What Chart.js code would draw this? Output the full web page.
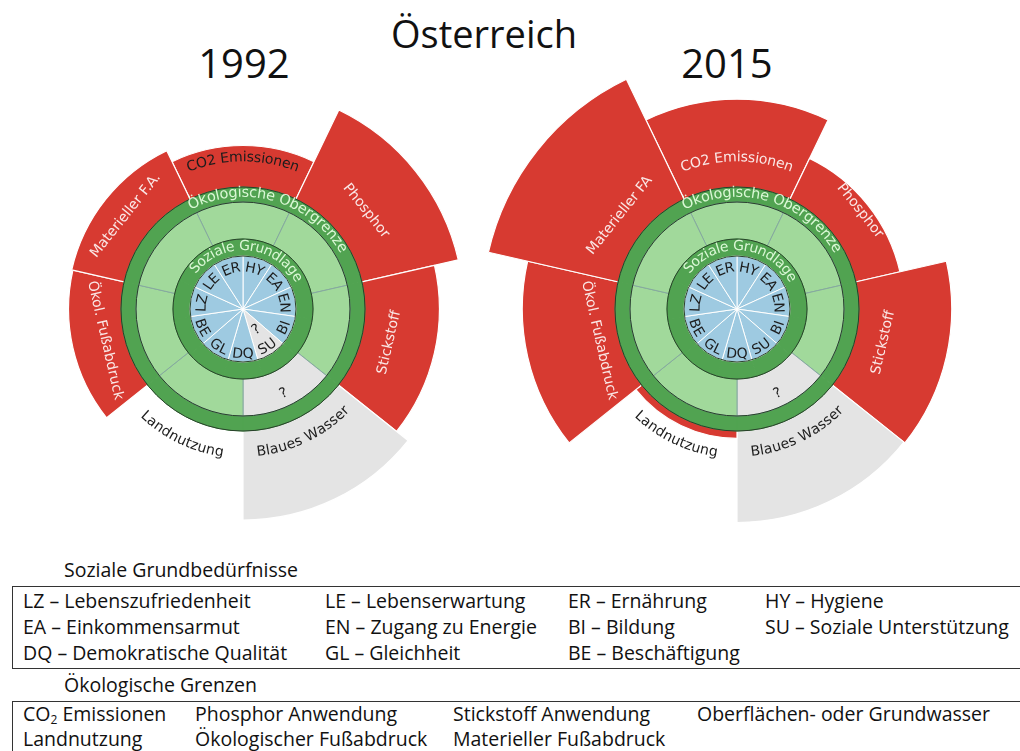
<!DOCTYPE html>
<html lang="de">
<head>
<meta charset="utf-8">
<title>Österreich 1992 / 2015</title>
<script src="https://cdn.jsdelivr.net/npm/chart.js@4.4.0/dist/chart.umd.min.js"></script>
<style>
    html, body { margin: 0; padding: 0; background: #fff; }
    #page { position: relative; width: 1020px; height: 751px; overflow: hidden; font-family: "Open Sans", sans-serif; color: #111; }
    .t { position: absolute; white-space: nowrap; line-height: 1; text-align: center; }
    canvas { position: absolute; }
    .box { position: absolute; left: 12px; width: 1040px; border: 1.5px solid #333; box-sizing: border-box; }
    .lg { position: absolute; font-size: 19.5px; line-height: 19px; white-space: nowrap; }
    .lg sub { font-size: 12px; line-height: 0; vertical-align: -3px; }
</style>
</head>
<body>
<div id="page">
    <div class="t" style="left:0;width:968px;top:14px;font-size:38px;">Österreich</div>
    <div class="t" style="left:44px;width:400px;top:43px;font-size:40px;">1992</div>
    <div class="t" style="left:527px;width:400px;top:43px;font-size:40px;">2015</div>

    <canvas id="eco1992" width="480" height="480" style="left:3px;top:69px;"></canvas>
    <canvas id="soc1992" width="160" height="160" style="left:163px;top:229px;"></canvas>
    <canvas id="eco2015" width="540" height="540" style="left:467px;top:39px;"></canvas>
    <canvas id="soc2015" width="160" height="160" style="left:657px;top:229px;"></canvas>

    <!-- Legende -->
    <div class="lg" style="left:64px;top:560px;">Soziale Grundbedürfnisse</div>
    <div class="box" style="top:586px;height:83px;"></div>
    <div class="lg" style="left:23px;top:591px;">LZ – Lebenszufriedenheit</div>
    <div class="lg" style="left:325px;top:591px;">LE – Lebenserwartung</div>
    <div class="lg" style="left:568px;top:591px;">ER – Ernährung</div>
    <div class="lg" style="left:765px;top:591px;">HY – Hygiene</div>
    <div class="lg" style="left:23px;top:617px;">EA – Einkommensarmut</div>
    <div class="lg" style="left:325px;top:617px;">EN – Zugang zu Energie</div>
    <div class="lg" style="left:568px;top:617px;">BI – Bildung</div>
    <div class="lg" style="left:765px;top:617px;">SU – Soziale Unterstützung</div>
    <div class="lg" style="left:23px;top:643px;">DQ – Demokratische Qualität</div>
    <div class="lg" style="left:325px;top:643px;">GL – Gleichheit</div>
    <div class="lg" style="left:568px;top:643px;">BE – Beschäftigung</div>

    <div class="lg" style="left:64px;top:675px;">Ökologische Grenzen</div>
    <div class="box" style="top:701px;height:80px;"></div>
    <div class="lg" style="left:23px;top:704px;">CO<sub>2</sub> Emissionen</div>
    <div class="lg" style="left:195px;top:704px;">Phosphor Anwendung</div>
    <div class="lg" style="left:453px;top:704px;">Stickstoff Anwendung</div>
    <div class="lg" style="left:697px;top:704px;">Oberflächen- oder Grundwasser</div>
    <div class="lg" style="left:23px;top:729px;">Landnutzung</div>
    <div class="lg" style="left:195px;top:729px;">Ökologischer Fußabdruck</div>
    <div class="lg" style="left:453px;top:729px;">Materieller Fußabdruck</div>
</div>

<script>
// --- DATEN ---
// Ökologische Grenzen, im Uhrzeigersinn ab oben (Wert 1 = ökologische Obergrenze)
const ecoNames1992 = ['CO2 Emissionen', 'Phosphor', 'Stickstoff', 'Blaues Wasser', 'Landnutzung', 'Ökol. Fußabdruck', 'Materieller F.A.'];
const ecoNames2015 = ['CO2 Emissionen', 'Phosphor', 'Stickstoff', 'Blaues Wasser', 'Landnutzung', 'Ökol. Fußabdruck', 'Materieller FA'];
const eco1992 = [1.34, 1.81, 1.61, 1.73, 0.90, 1.43, 1.44];
const eco2015 = [1.72, 1.37, 1.76, 1.75, 1.06, 1.76, 2.09];
const ecoKnown1992 = [true, true, true, false, true, true, true];
const ecoKnown2015 = [true, true, true, false, true, true, true];

// Soziale Grundlage, im Uhrzeigersinn ab oben (Wert 1 = Schwelle erreicht)
const socNames = ['HY', 'EA', 'EN', 'BI', 'SU', 'DQ', 'GL', 'BE', 'LZ', 'LE', 'ER'];
const soc1992 = [1, 1, 1, 1, 1, 1, 1, 1, 1, 1, 1];
const soc2015 = [1, 1, 1, 1, 1, 1, 1, 1, 1, 1, 1];
const socKnown1992 = [true, true, true, true, false, true, true, true, true, true, true];
const socKnown2015 = [true, true, true, true, true, true, true, true, true, true, true];

// --- GEOMETRIE / STIL ---
const PX = 122;                 // Pixel pro Einheit (äußerer Rand der Obergrenze)
const SOC_R = 53 / PX;          // Radius soziale Grundlage
const SOC_RING = 70 / PX;       // innerer grüner Ring
const ECO_IN = 107 / PX;        // hellgrüner Bereich
const ECO_OUT = 1;              // äußerer grüner Ring
const LABEL_R = [1.24, 1.29, 1.23, 1.18, 1.19, 1.16, 1.23];

const C = {
    red: '#d73a31',
    grey: '#e4e4e4',
    dark: '#51a351',
    light: '#a1d99b',
    lightLine: '#86a9a0',
    blue: '#9ecae1',
    edge: '#28402a',
    onRed: 'rgba(255,255,255,0.88)',
    ring: 'rgba(230,255,225,0.92)',
    ink: '#1c1c1c'
};
const FONT = '"DejaVu Sans", sans-serif';

// Text entlang eines Kreisbogens (oder gerade, tangential gedreht)
function arcText(ctx, text, cx, cy, r, angDeg, curved) {
    const a0 = angDeg * Math.PI / 180;
    const norm = ((angDeg % 360) + 360) % 360;
    const flip = norm > 90 && norm < 270;
    if (!curved) {
        ctx.save();
        ctx.translate(cx + r * Math.sin(a0), cy - r * Math.cos(a0));
        ctx.rotate(flip ? a0 - Math.PI : a0);
        ctx.fillText(text, 0, 0);
        ctx.restore();
        return;
    }
    const total = ctx.measureText(text).width;
    let off = -total / 2;
    for (const ch of text) {
        const w = ctx.measureText(ch).width;
        const d = (off + w / 2) / r;
        const a = flip ? a0 - d : a0 + d;
        ctx.save();
        ctx.translate(cx + r * Math.sin(a), cy - r * Math.cos(a));
        ctx.rotate(flip ? a - Math.PI : a);
        ctx.fillText(ch, 0, 0);
        ctx.restore();
        off += w;
    }
}

function textPlugin(items) {
    return {
        id: 'ringText',
        afterDraw(chart) {
            const s = chart.scales.r;
            const ctx = chart.ctx;
            ctx.save();
            ctx.textAlign = 'center';
            ctx.textBaseline = 'middle';
            items.forEach(it => {
                ctx.font = it.font;
                ctx.fillStyle = it.color;
                arcText(ctx, it.text, s.xCenter, s.yCenter, s.getDistanceFromCenterForValue(it.r), it.angle, it.curved);
            });
            ctx.restore();
        }
    };
}

function radialScale(half, start, rings) {
    return {
        r: {
            min: 0,
            max: half / PX,
            startAngle: start,
            ticks: { display: false },
            pointLabels: { display: false },
            angleLines: { display: false },
            grid: { display: true, circular: true, color: C.edge, lineWidth: 1, z: 1 },
            afterBuildTicks: (axis) => { axis.ticks = [0, ...rings].map(v => ({ value: v })); }
        }
    };
}

const baseOpts = {
    responsive: false,
    animation: false,
    events: [],
    layout: { padding: 0 },
    plugins: { legend: { display: false }, tooltip: { enabled: false } }
};

// --- ÖKOLOGISCHE OBERGRENZE ---
function ecoChart(id, names, vals, known, darkText) {
    const canvas = document.getElementById(id);
    const half = canvas.width / 2;
    const step = 360 / names.length;

    const items = [];
    names.forEach((n, i) => {
        const curved = (i === 0 || i === 3 || i === 4);
        items.push({ text: n, r: LABEL_R[i], angle: i * step, curved,
            font: '14px ' + FONT, color: darkText[i] ? C.ink : C.onRed });
        if (!known[i]) {
            items.push({ text: '?', r: 94 / PX, angle: i * step, curved: false, font: '14px ' + FONT, color: C.ink });
        }
    });
    items.push({ text: 'Ökologische Obergrenze', r: 116 / PX, angle: 16, curved: true, font: '14.5px ' + FONT, color: C.ring });

    new Chart(canvas, {
        type: 'polarArea',
        data: {
            labels: names,
            datasets: [
                { data: names.map(() => ECO_IN), backgroundColor: known.map(k => k ? C.light : C.grey), borderColor: C.lightLine, borderWidth: 1 },
                { data: names.map(() => ECO_OUT), backgroundColor: C.dark, borderColor: C.dark, borderWidth: 1 },
                { data: vals, backgroundColor: known.map(k => k ? C.red : C.grey), borderColor: '#ffffff', borderWidth: 1.2 }
            ]
        },
        options: { ...baseOpts, scales: radialScale(half, -step / 2, [ECO_IN, ECO_OUT]) },
        plugins: [textPlugin(items)]
    });
}

// --- SOZIALE GRUNDLAGE ---
function socChart(id, vals, known) {
    const canvas = document.getElementById(id);
    const half = canvas.width / 2;
    const step = 360 / socNames.length;

    const items = [];
    socNames.forEach((n, i) => {
        const ang = (i + 0.5) * step;
        const flip = ang > 90 && ang < 270;
        items.push({ text: n, r: (flip ? 45.5 : 41) / PX, angle: ang, curved: true, font: '14px ' + FONT, color: C.ink });
        if (!known[i]) {
            items.push({ text: '?', r: 25 / PX, angle: ang, curved: false, font: '14px ' + FONT, color: C.ink });
        }
    });
    items.push({ text: 'Soziale Grundlage', r: 62.5 / PX, angle: 5, curved: true, font: '14px ' + FONT, color: C.ring });

    new Chart(canvas, {
        type: 'polarArea',
        data: {
            labels: socNames,
            datasets: [
                { data: vals.map(v => v * SOC_R), backgroundColor: known.map(k => k ? C.blue : C.grey), borderColor: '#ffffff', borderWidth: 1 },
                { data: vals.map(() => SOC_RING), backgroundColor: C.dark, borderColor: C.dark, borderWidth: 1 }
            ]
        },
        options: { ...baseOpts, scales: radialScale(half, 0, [SOC_R, SOC_RING]) },
        plugins: [textPlugin(items)]
    });
}

document.addEventListener('DOMContentLoaded', () => {
    ecoChart('eco1992', ecoNames1992, eco1992, ecoKnown1992, [true, false, false, true, true, false, false]);
    ecoChart('eco2015', ecoNames2015, eco2015, ecoKnown2015, [false, false, false, true, true, false, false]);
    socChart('soc1992', soc1992, socKnown1992);
    socChart('soc2015', soc2015, socKnown2015);
});
</script>
</body>
</html>
